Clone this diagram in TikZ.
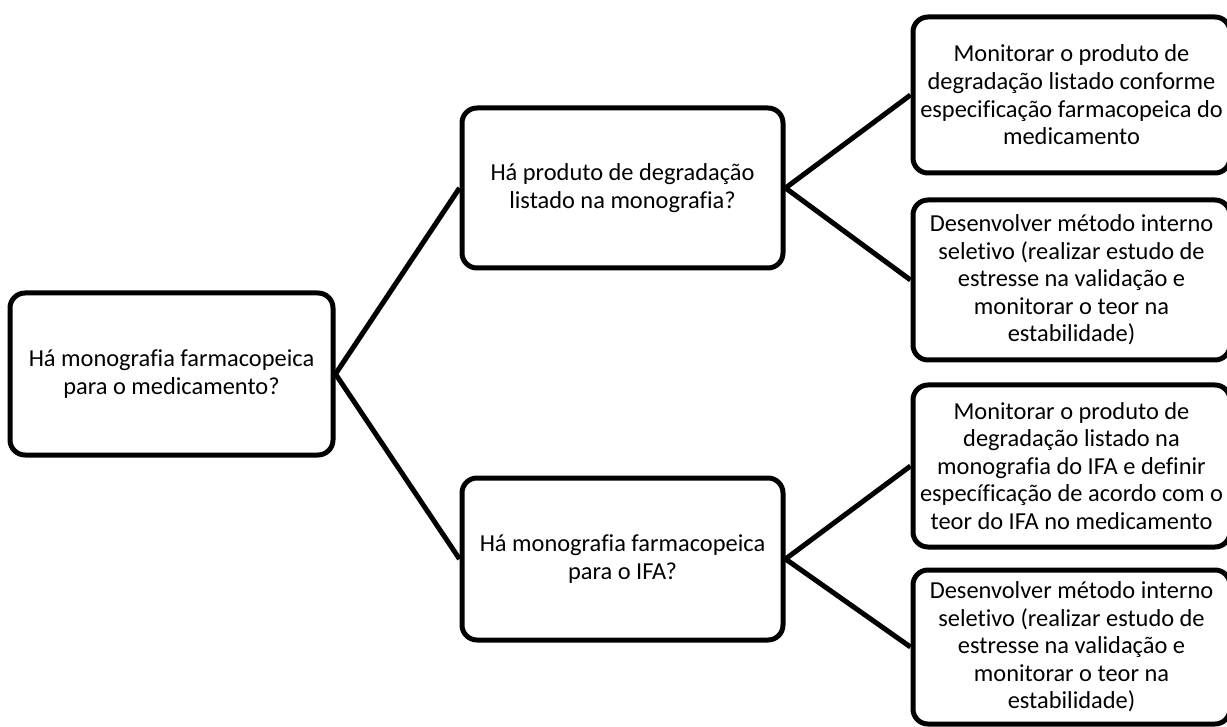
\documentclass[tikz,border=0pt]{standalone}
\usepackage{fontspec}
\setmainfont{Carlito}[Ligatures=NoCommon]
\begin{document}
\begin{tikzpicture}[x=0.5pt, y=-0.5pt,
		box/.style={draw, line width=2.5pt, rounded corners=7.5pt, align=center, inner sep=0pt, fill=white,
			font=\fontsize{12.2}{13.8}\selectfont, minimum width=160.5pt},
		link/.style={line width=2.5pt}]
		\useasboundingbox[fill=white] (0,0) rectangle (1227,727);
		
		\node[box, minimum width=161.5pt, minimum height=81pt] (medic) at (171.5,374) {Há monografia farmacopeica\\para o medicamento?};
		\node[box, minimum height=80pt] (degr) at (622.5,188) {Há produto de degradação\\listado na monografia?};
		\node[box, minimum height=81pt] (ifa) at (622.5,559) {Há monografia farmacopeica\\para o IFA?};
		
		\node[box, minimum width=158.5pt, minimum height=78pt] (monmed) at (1071.5,95) {Monitorar o produto de\\degradação listado conforme\\especificação farmacopeica do\\medicamento};
		\node[box, minimum width=158.5pt, minimum height=80pt] (metodoA) at (1071.5,280) {Desenvolver método interno\\seletivo (realizar estudo de\\estresse na validação e\\monitorar o teor na\\estabilidade)};
		\node[box, minimum width=158.5pt, minimum height=81pt] (monifa) at (1071.5,466) {Monitorar o produto de\\degradação listado na\\monografia do IFA e definir\\específicação de acordo com o\\teor do IFA no medicamento};
		\node[box, minimum width=158.5pt, minimum height=77pt] (metodoB) at (1071.5,647) {Desenvolver método interno\\seletivo (realizar estudo de\\estresse na validação e\\monitorar o teor na\\estabilidade)};
		
		\draw[link] (medic.east) -- (degr.west);
		\draw[link] (medic.east) -- (ifa.west);
		\draw[link] (degr.east) -- (monmed.west);
		\draw[link] (degr.east) -- (metodoA.west);
		\draw[link] (ifa.east) -- (monifa.west);
		\draw[link] (ifa.east) -- (metodoB.west);
		
	\end{tikzpicture}
\end{document}
